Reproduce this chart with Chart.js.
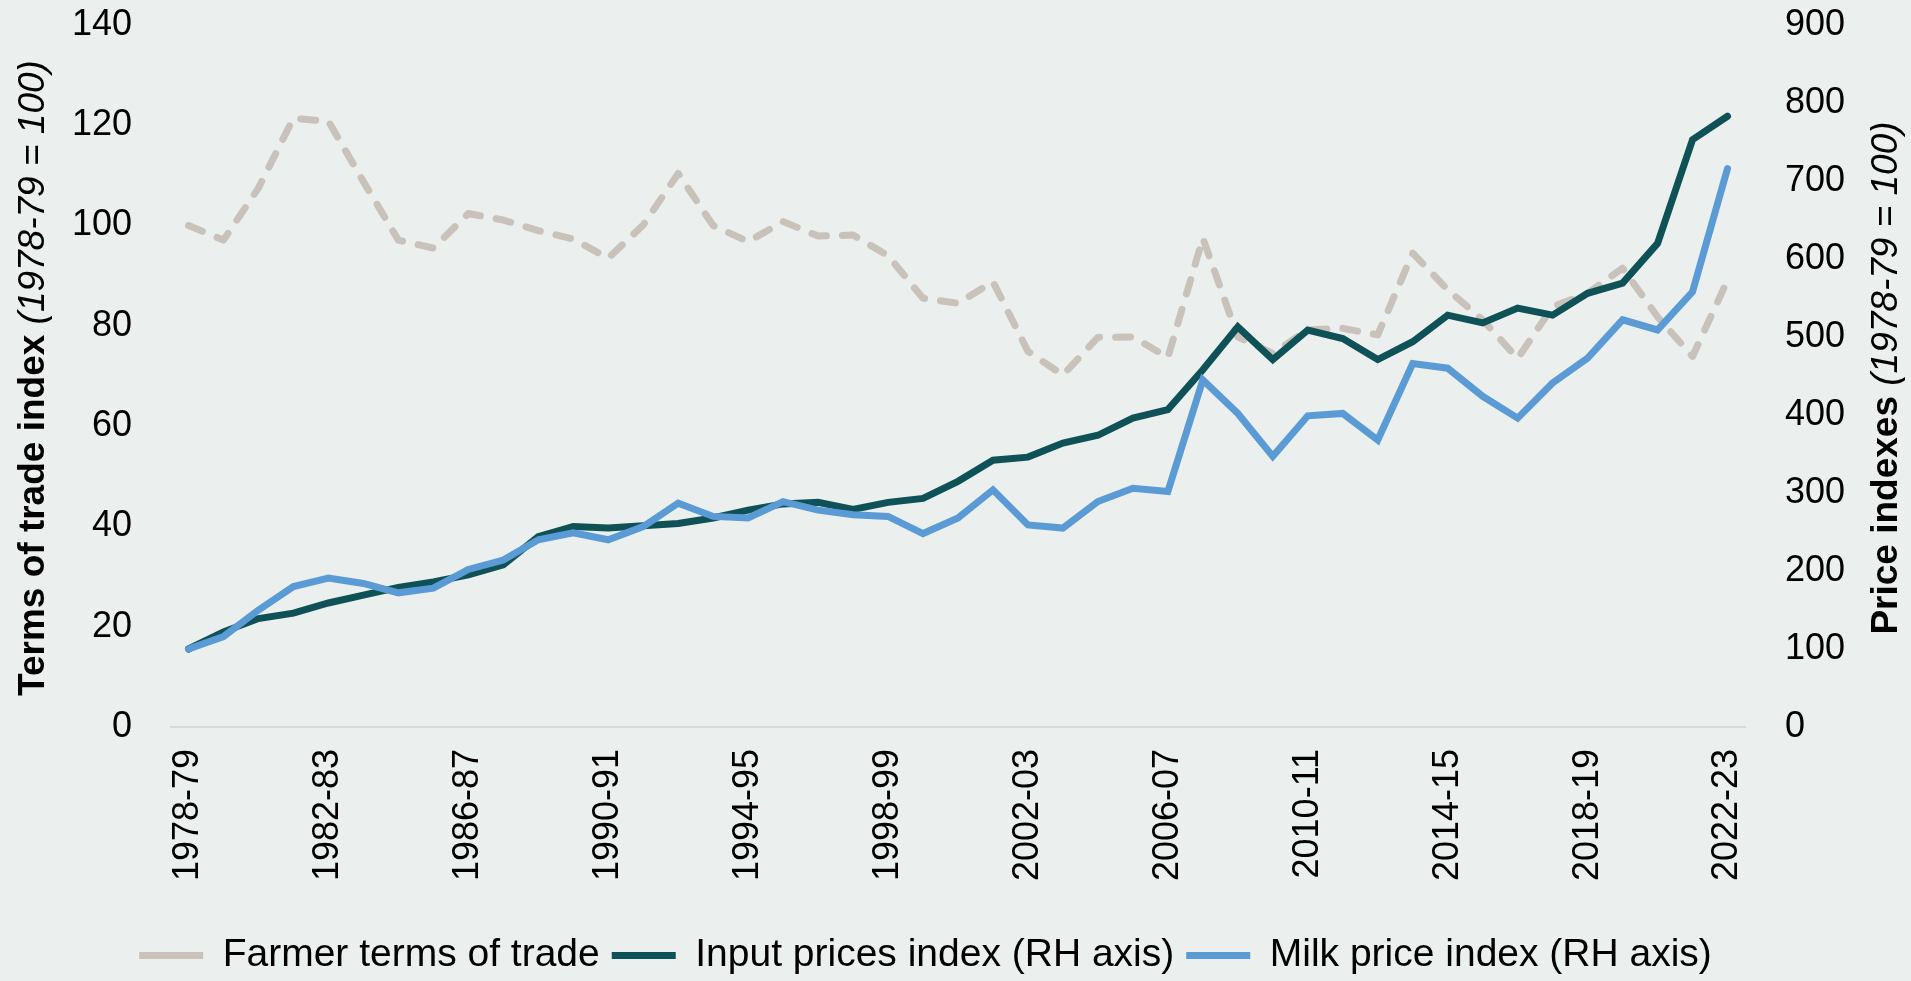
<!DOCTYPE html>
<html>
<head>
<meta charset="utf-8">
<script src="https://cdn.jsdelivr.net/npm/chart.js@4.4.1/dist/chart.umd.min.js"></script>
<style>
  html, body { margin: 0; padding: 0; background: #EBEFEE; }
  #wrap { width: 1911px; height: 981px; }
</style>
</head>
<body>
<div id="wrap"><canvas id="termsChart" width="1911" height="981"></canvas></div>
<script>
    // Financial years on the category axis
    const years = [
      '1978-79', '1979-80', '1980-81', '1981-82', '1982-83', '1983-84', '1984-85', '1985-86', '1986-87',
      '1987-88', '1988-89', '1989-90', '1990-91', '1991-92', '1992-93', '1993-94', '1994-95', '1995-96',
      '1996-97', '1997-98', '1998-99', '1999-00', '2000-01', '2001-02', '2002-03', '2003-04', '2004-05',
      '2005-06', '2006-07', '2007-08', '2008-09', '2009-10', '2010-11', '2011-12', '2012-13', '2013-14',
      '2014-15', '2015-16', '2016-17', '2017-18', '2018-19', '2019-20', '2020-21', '2021-22', '2022-23'
    ];

    // Farmer terms of trade (LH axis, 1978-79 = 100)
    const farmerTermsOfTrade = [
      100, 97.1, 107.5, 121.4, 120.8, 108.8, 97.1, 95.5, 102.4, 101.1, 99, 97.3, 93.5, 100.1, 110.4,
      100, 96.8, 100.8, 97.9, 98.1, 94, 85.5, 84.5, 88.8, 74.9, 70.2, 77.7, 77.8, 73.7, 97.5,
      77.8, 74.5, 79.2, 79.5, 78.2, 94.5, 87.2, 81.2, 73.5, 83.8, 86.5, 91.5, 81.8, 73.9, 89.1
    ];

    // Input prices index (RH axis)
    const inputPrices = [
      100, 122, 139, 146, 159, 169, 179, 186, 195, 208, 244, 257, 255, 258, 261,
      268, 278, 286, 288, 279, 288, 293, 315, 342, 346, 364, 374, 396, 407, 458,
      513, 471, 509, 498, 471, 494, 528, 518, 537, 528, 556, 569, 620, 753, 783
    ];

    // Milk price index (RH axis)
    const milkPrices = [
      100, 116, 150, 180, 191, 184, 172, 178, 202, 214, 240, 249, 240, 257, 287,
      270, 268, 289, 278, 272, 270, 248, 268, 304, 259, 255, 289, 306, 302, 445,
      402, 347, 399, 402, 368, 466, 460, 424, 396, 441, 473, 522, 509, 558, 716
    ];

    const leftTicks = [0, 20, 40, 60, 80, 100, 120, 140];
    const rightTicks = [0, 100, 200, 300, 400, 500, 600, 700, 800, 900];

    const FONT = '"Liberation Sans", Arial, sans-serif';
    const BG = '#EBEFEE';

    // Fill the page colour behind the chart
    const background = {
      id: 'background',
      beforeDraw(chart) {
        const c = chart.ctx;
        c.save();
        c.fillStyle = BG;
        c.fillRect(0, 0, chart.width, chart.height);
        c.restore();
      }
    };

    // Axis titles with a bold part and an italic part
    function drawTitle(c, x, y, boldPart, italicPart) {
      const bold = 'bold 37px ' + FONT;
      const italic = 'italic 37px ' + FONT;
      c.save();
      c.translate(x, y);
      c.rotate(-Math.PI / 2);
      c.fillStyle = '#000';
      c.textBaseline = 'middle';
      c.textAlign = 'left';
      c.font = bold;
      const w1 = c.measureText(boldPart).width;
      c.font = italic;
      const w2 = c.measureText(italicPart).width;
      const start = -(w1 + w2) / 2;
      c.font = bold;
      c.fillText(boldPart, start, 0);
      c.font = italic;
      c.fillText(italicPart, start + w1, 0);
      c.restore();
    }

    const axisTitles = {
      id: 'axisTitles',
      afterDraw(chart) {
        drawTitle(chart.ctx, 34, 378, 'Terms of trade index ', '(1978-79 = 100)');
        drawTitle(chart.ctx, 1887, 378, 'Price indexes ', '(1978-79 = 100)');
      }
    };

    const tickFont = { family: FONT, size: 36 };

    // keep the tick padding from pushing the plot area down
    function fitY(width) {
      return scale => {
        scale.width = width;
        scale.paddingTop = 0;
        scale.paddingBottom = 0;
      };
    }

    const ctx = document.getElementById('termsChart').getContext('2d');
    const termsChart = new Chart(ctx, {
      type: 'line',
      data: {
        labels: years,
        datasets: [
          {
            label: 'Farmer terms of trade',
            data: farmerTermsOfTrade,
            yAxisID: 'y',
            borderColor: '#C9C2BB',
            backgroundColor: '#C9C2BB',
            borderWidth: 7,
            borderDash: [15, 16],
            borderCapStyle: 'round',
            borderJoinStyle: 'round',
            order: 2
          },
          {
            label: 'Input prices index (RH axis)',
            data: inputPrices,
            yAxisID: 'y1',
            borderColor: '#0E5257',
            backgroundColor: '#0E5257',
            borderWidth: 7,
            borderCapStyle: 'round',
            order: 1
          },
          {
            label: 'Milk price index (RH axis)',
            data: milkPrices,
            yAxisID: 'y1',
            borderColor: '#5B9BD5',
            backgroundColor: '#5B9BD5',
            borderWidth: 7,
            borderCapStyle: 'round',
            order: 0
          }
        ]
      },
      options: {
        responsive: false,
        animation: false,
        layout: { padding: { top: 25, left: 0, right: 60, bottom: -4 } },
        elements: {
          point: { radius: 0, hoverRadius: 0 },
          line: { tension: 0 }
        },
        scales: {
          x: {
            offset: true,
            grid: { display: false, drawTicks: false },
            border: { display: true, color: '#D9D9D9', width: 2 },
            ticks: {
              autoSkip: false,
              minRotation: 90,
              maxRotation: 90,
              padding: 22,
              color: '#000',
              font: tickFont,
              callback: (value, index) => (index % 4 === 0 ? years[index] : '')
            },
            afterFit: scale => { scale.height = 197; }
          },
          y: {
            position: 'left',
            min: leftTicks[0],
            max: leftTicks[leftTicks.length - 1],
            grid: { display: false, drawTicks: false },
            border: { display: false },
            afterBuildTicks: scale => { scale.ticks = leftTicks.map(v => ({ value: v })); },
            ticks: { padding: 39, color: '#000', font: tickFont },
            afterFit: fitY(171)
          },
          y1: {
            position: 'right',
            min: rightTicks[0],
            max: rightTicks[rightTicks.length - 1],
            grid: { display: false, drawTicks: false },
            border: { display: false },
            afterBuildTicks: scale => { scale.ticks = rightTicks.map(v => ({ value: v })); },
            ticks: { padding: 40, color: '#000', font: tickFont },
            afterFit: fitY(106)
          }
        },
        plugins: {
          legend: {
            position: 'bottom',
            labels: {
              usePointStyle: true,
              pointStyle: 'line',
              pointStyleWidth: 64,
              padding: 12,
              color: '#000',
              font: { family: FONT, size: 39 },
              sort: (a, b) => a.datasetIndex - b.datasetIndex
            }
          },
          tooltip: { enabled: false }
        }
      },
      plugins: [background, axisTitles]
    });
</script>
</body>
</html>
